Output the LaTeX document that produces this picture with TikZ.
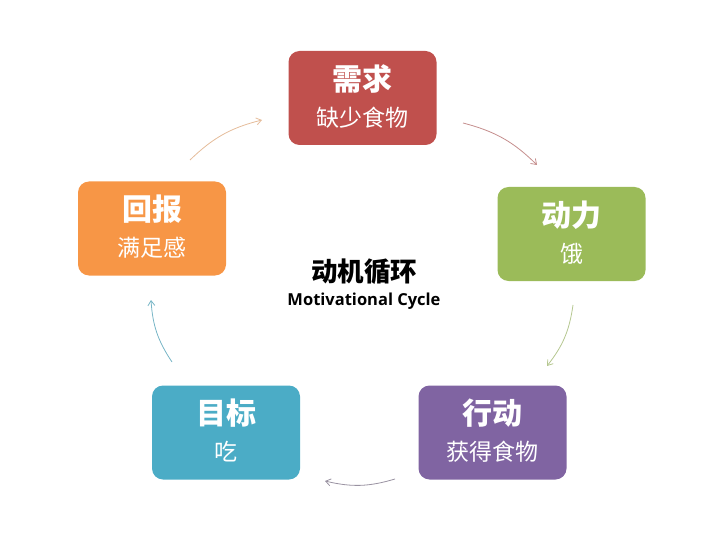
\documentclass[tikz,border=0pt]{standalone}
\usepackage{fontspec}
\newfontfamily\cjk{Noto Sans CJK SC}
\newfontfamily\lat{Open Sans}
\usetikzlibrary{arrows.meta}
\begin{document}
\begin{tikzpicture}[x=1pt,y=-1pt,
  card/.style={rounded corners=11pt, minimum width=148pt, minimum height=94pt, inner sep=0pt, align=center, text=white},
  ttl/.style={font=\cjk\fontsize{30}{32}\selectfont\bfseries},
  sub/.style={font=\cjk\fontsize{23}{25}\selectfont},
  flow/.style={line width=0.8pt, -{Straight Barb[length=5pt,width=7pt]}, bend left=15}]
\useasboundingbox (0,0) rectangle (720,540);
\definecolor{cred}{HTML}{C0504D}
\definecolor{cgreen}{HTML}{9BBB59}
\definecolor{cpurple}{HTML}{8064A2}
\definecolor{ccyan}{HTML}{4BACC6}
\definecolor{corange}{HTML}{F79646}

\node[card, fill=cred] (need) at (362.5,98) {};
\node[ttl, text=white] (needt) at (362.5,79) {需求};
\node[sub, text=white] (needs) at (362.5,118) {缺少食物};

\node[card, fill=cgreen] (drive) at (571.5,234) {};
\node[ttl, text=white] (drivet) at (571.5,215) {动力};
\node[sub, text=white] (drives) at (571.5,254) {饿};

\node[card, fill=cpurple] (act) at (492.5,432.5) {};
\node[ttl, text=white] (actt) at (492.5,413) {行动};
\node[sub, text=white] (acts) at (492.5,452) {获得食物};

\node[card, fill=ccyan] (goal) at (226,432.5) {};
\node[ttl, text=white] (goalt) at (226,413) {目标};
\node[sub, text=white] (goals) at (226,452) {吃};

\node[card, fill=corange] (rew) at (152,228.5) {};
\node[ttl, text=white] (rewt) at (152,209) {回报};
\node[sub, text=white] (rews) at (152,248) {满足感};

\node[font=\cjk\fontsize{26.5}{28}\selectfont\bfseries] (c1) at (364,272) {动机循环};
\node[font=\lat\fontsize{16.5}{18}\selectfont\bfseries] (c2) at (364,301) {Motivational Cycle};

\coordinate (a1s) at (190,160); \coordinate (a1e) at (262,120);
\coordinate (a2s) at (463,123); \coordinate (a2e) at (537,165);
\coordinate (a3s) at (573,305); \coordinate (a3e) at (547,366);
\coordinate (a4s) at (395,479); \coordinate (a4e) at (325,481);
\coordinate (a5s) at (172,362); \coordinate (a5e) at (151,300);

\draw[flow, draw=corange!70!gray!60] (a1s) to (a1e);
\draw[flow, draw=cred!70!gray!70] (a2s) to (a2e);
\draw[flow, draw=cgreen!80!gray!70] (a3s) to (a3e);
\draw[flow, draw=cpurple!30!gray!80] (a4s) to (a4e);
\draw[flow, draw=ccyan!80!gray!80] (a5s) to (a5e);
\end{tikzpicture}
\end{document}
